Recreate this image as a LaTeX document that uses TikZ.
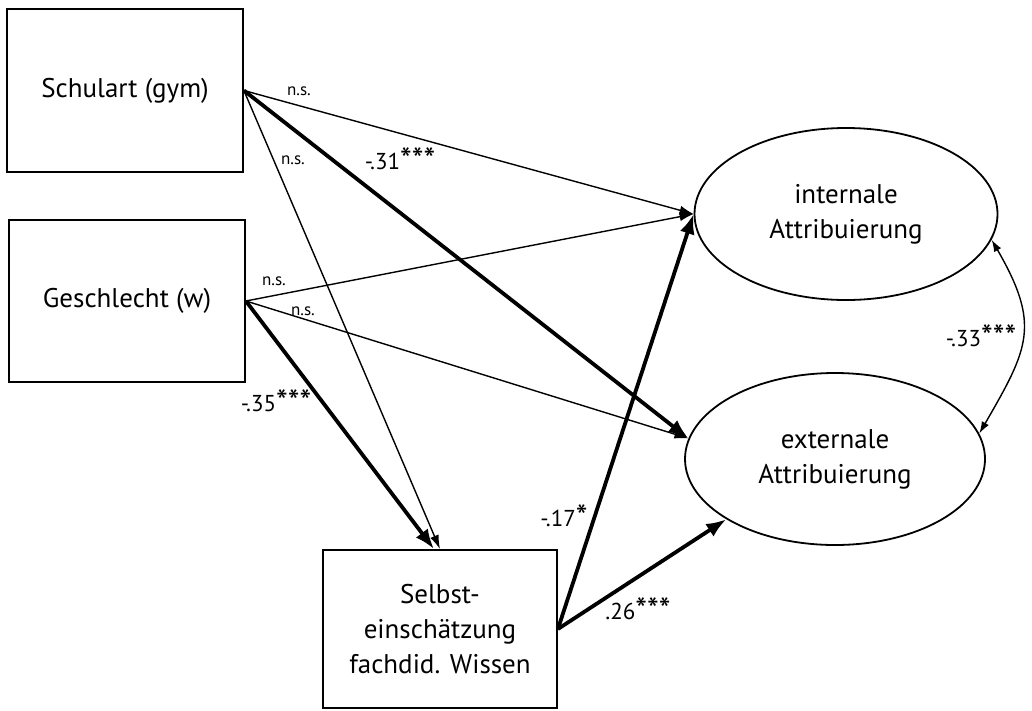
\documentclass[tikz,border=0pt]{standalone}
\usepackage{fontspec}
\setmainfont{PT Sans}
\usetikzlibrary{shapes.geometric,arrows.meta}
\newcommand{\stx}{\raisebox{-0.12em}{\scalebox{1.45}{*}}}
\begin{document}
\begin{tikzpicture}[x=1pt,y=-1pt,
  box/.style={draw,line width=1.8pt,rectangle,inner sep=0pt,align=center,font=\fontsize{27}{35}\selectfont},
  oval/.style={draw,line width=1.8pt,ellipse,inner sep=0pt,align=center,font=\fontsize{27}{35}\selectfont},
  thin/.style={line width=1.4pt,-{Latex[length=14pt,width=9pt]}},
  thick/.style={line width=3.8pt,-{Latex[length=20pt,width=15pt]}},
  lbl/.style={font=\fontsize{23}{26}\selectfont,inner sep=0pt},
  ns/.style={font=\fontsize{17}{20}\selectfont,inner sep=0pt}]
\useasboundingbox (0,0) rectangle (1032,710);
\node[box,minimum width=236pt,minimum height=163pt] (schul) at (125,90.5) {Schulart (gym)};
\node[box,minimum width=236pt,minimum height=162pt] (gesch) at (127,301) {Geschlecht (w)};
\node[box,minimum width=234pt,minimum height=158pt] (selbst) at (440,629) {Selbst-\\einschätzung\\fachdid. Wissen};
\node[oval,minimum width=303pt,minimum height=172pt] (int) at (846,214) {internale\\Attribuierung};
\node[oval,minimum width=300pt,minimum height=172pt] (ext) at (835,459) {externale\\Attribuierung};
\draw[thin] (schul.east) -- (int.west);
\draw[thin] (gesch.east) -- (int.west);
\draw[thin] (gesch.east) -- (ext.172);
\draw[thin] (schul.east) -- (selbst.north);
\draw[thick] (schul.east) -- (ext.172);
\draw[thick] (gesch.east) -- ([xshift=-6pt]selbst.north);
\draw[thick] (selbst.east) -- (int.west);
\draw[thick] (selbst.east) -- (ext.209);
\draw[line width=1.4pt,{Latex[length=12pt,width=8pt]}-{Latex[length=12pt,width=8pt]}] (int.-10) to[out=-60,in=60,looseness=1.3] (ext.10);
\node[ns] (l1) at (299,91) {n.s.};
\node[ns] (l2) at (293,160) {n.s.};
\node[lbl] (l3) at (400,160) {-.31\stx\stx\stx};
\node[ns] (l4) at (274,281) {n.s.};
\node[ns] (l5) at (303,311) {n.s.};
\node[lbl] (l6) at (276,402) {-.35\stx\stx\stx};
\node[lbl] (l7) at (564,517) {-.17\stx};
\node[lbl] (l8) at (638,610) {.26\stx\stx\stx};
\node[lbl] (l9) at (981,337) {-.33\stx\stx\stx};
\end{tikzpicture}
\end{document}
